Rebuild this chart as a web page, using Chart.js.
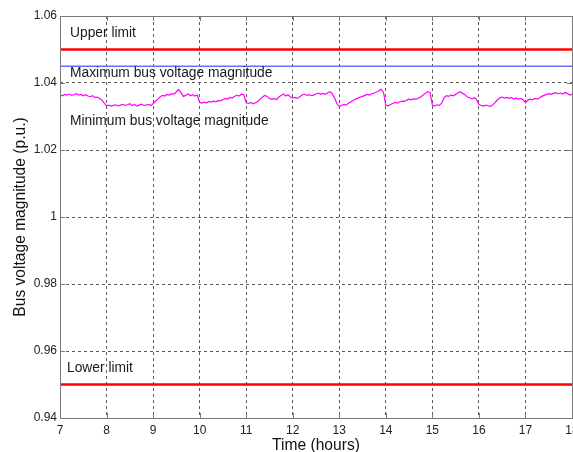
<!DOCTYPE html>
<html>
<head>
<meta charset="utf-8">
<script src="https://cdn.jsdelivr.net/npm/chart.js@4"></script>
<style>
  html, body { margin: 0; padding: 0; background: #fff; overflow: hidden; }
  #wrap { width: 573px; height: 452px; }
</style>
</head>
<body>
<div id="wrap"><canvas id="busChart" width="573" height="452"></canvas></div>
<script>
// hours on the x axis, bus voltage in p.u. on the y axis
const hourTicks = [7, 8, 9, 10, 11, 12, 13, 14, 15, 16, 17, 18];
const voltTicks = [0.94, 0.96, 0.98, 1.0, 1.02, 1.04, 1.06];
const voltTickLabels = ["0.94", "0.96", "0.98", "1", "1.02", "1.04", "1.06"];

const upperLimit = 1.05;
const lowerLimit = 0.95;
const maxBusVoltage = 1.045;

// minimum bus voltage, sampled every 0.05 h from 7:00
const sampleStart = 7;
const sampleStep = 0.05;
const minBusVoltage = [
  1.0365, 1.0362, 1.0366, 1.0364, 1.0367, 1.0363, 1.0365, 1.0368, 1.0364, 1.0366,
  1.0362, 1.0365, 1.0361, 1.0359, 1.0362, 1.0357, 1.0358, 1.0354, 1.0349, 1.0340,
  1.0332, 1.0334, 1.0331, 1.0333, 1.0335, 1.0332, 1.0334, 1.0336, 1.0333, 1.0335,
  1.0338, 1.0333, 1.0336, 1.0331, 1.0334, 1.0337, 1.0333, 1.0334, 1.0336, 1.0333,
  1.0338, 1.0345, 1.0352, 1.0358, 1.0363, 1.0361, 1.0366, 1.0364, 1.0368, 1.0367,
  1.0374, 1.0380, 1.0371, 1.0360, 1.0363, 1.0368, 1.0362, 1.0365, 1.0361, 1.0364,
  1.0342, 1.0340, 1.0343, 1.0341, 1.0345, 1.0343, 1.0346, 1.0344, 1.0348, 1.0347,
  1.0351, 1.0354, 1.0352, 1.0357, 1.0355, 1.0360, 1.0364, 1.0361, 1.0367, 1.0365,
  1.0341, 1.0339, 1.0342, 1.0338, 1.0341, 1.0345, 1.0352, 1.0358, 1.0363, 1.0360,
  1.0354, 1.0351, 1.0353, 1.0350, 1.0358, 1.0363, 1.0367, 1.0361, 1.0365, 1.0358,
  1.0355, 1.0357, 1.0354, 1.0359, 1.0364, 1.0367, 1.0363, 1.0365, 1.0362, 1.0364,
  1.0367, 1.0370, 1.0366, 1.0369, 1.0366, 1.0371, 1.0374, 1.0368, 1.0355, 1.0338,
  1.0330, 1.0333, 1.0336, 1.0334, 1.0340, 1.0344, 1.0348, 1.0352, 1.0355, 1.0358,
  1.0360, 1.0363, 1.0366, 1.0364, 1.0368, 1.0370, 1.0373, 1.0377, 1.0381, 1.0372,
  1.0334, 1.0332, 1.0336, 1.0339, 1.0342, 1.0340, 1.0344, 1.0346, 1.0345, 1.0349,
  1.0352, 1.0350, 1.0353, 1.0351, 1.0355, 1.0358, 1.0364, 1.0369, 1.0374, 1.0372,
  1.0334, 1.0331, 1.0335, 1.0333, 1.0340, 1.0356, 1.0362, 1.0360, 1.0364, 1.0362,
  1.0366, 1.0371, 1.0374, 1.0369, 1.0365, 1.0358, 1.0356, 1.0353, 1.0356, 1.0351,
  1.0336, 1.0333, 1.0331, 1.0334, 1.0332, 1.0330, 1.0335, 1.0342, 1.0350, 1.0356,
  1.0358, 1.0355, 1.0357, 1.0354, 1.0356, 1.0353, 1.0355, 1.0352, 1.0354, 1.0350,
  1.0341, 1.0349, 1.0352, 1.0350, 1.0354, 1.0352, 1.0355, 1.0360, 1.0363, 1.0366,
  1.0368, 1.0366, 1.0369, 1.0371, 1.0368, 1.0370, 1.0367, 1.0372, 1.0369, 1.0364,
  1.0366
];

const xMin = hourTicks[0];
const xMax = hourTicks[hourTicks.length - 1];
const flat = (v) => [{ x: xMin, y: v }, { x: xMax, y: v }];
const minPoints = minBusVoltage.map((v, i) => ({ x: sampleStart + i * sampleStep, y: v }));

const FONT = "'Liberation Sans', Arial, Helvetica, sans-serif";

// text labels placed in data coordinates
const notes = [
  { text: "Upper limit", x: 7.215, y: 1.0549 },
  { text: "Maximum bus voltage magnitude", x: 7.215, y: 1.0430 },
  { text: "Minimum bus voltage magnitude", x: 7.215, y: 1.0287 },
  { text: "Lower limit", x: 7.15, y: 0.9549 },
];

// box frame, inner tick marks and the text notes
const framePlugin = {
  id: "frame",
  afterDatasetsDraw(chart) {
    const { ctx, chartArea: a, scales } = chart;
    ctx.save();
    ctx.strokeStyle = "#7a7a7a";
    ctx.lineWidth = 1;
    ctx.beginPath();
    hourTicks.forEach((h) => {
      const px = Math.round(scales.x.getPixelForValue(h)) + 0.5;
      ctx.moveTo(px, a.bottom); ctx.lineTo(px, a.bottom - 5);
      ctx.moveTo(px, a.top); ctx.lineTo(px, a.top + 5);
    });
    voltTicks.forEach((v) => {
      const py = Math.round(scales.y.getPixelForValue(v)) + 0.5;
      ctx.moveTo(a.left, py); ctx.lineTo(a.left + 5, py);
      ctx.moveTo(a.right, py); ctx.lineTo(a.right - 5, py);
    });
    ctx.stroke();
    ctx.strokeRect(Math.round(a.left) + 0.5, Math.round(a.top) + 0.5,
      Math.round(a.right - a.left), Math.round(a.bottom - a.top));

    ctx.fillStyle = "#1a1a1a";
    ctx.font = "13.8px " + FONT;
    ctx.textAlign = "left";
    ctx.textBaseline = "middle";
    notes.forEach((n) => {
      ctx.fillText(n.text, scales.x.getPixelForValue(n.x), scales.y.getPixelForValue(n.y));
    });
    ctx.restore();
  },
};

new Chart(document.getElementById("busChart"), {
  type: "line",
  data: {
    datasets: [
      { label: "Upper limit", data: flat(upperLimit), borderColor: "#ff0000", borderWidth: 2.5 },
      { label: "Maximum bus voltage magnitude", data: flat(maxBusVoltage), borderColor: "#6b6bff", borderWidth: 1.5 },
      { label: "Minimum bus voltage magnitude", data: minPoints, borderColor: "#ff00ff", borderWidth: 1.2 },
      { label: "Lower limit", data: flat(lowerLimit), borderColor: "#ff0000", borderWidth: 2.5 },
    ],
  },
  options: {
    responsive: false,
    animation: false,
    devicePixelRatio: 1,
    layout: { padding: { top: 16, right: 1, bottom: -3, left: 0 } },
    elements: { point: { radius: 0 }, line: { tension: 0 } },
    plugins: { legend: { display: false }, tooltip: { enabled: false } },
    scales: {
      x: {
        type: "linear",
        min: xMin,
        max: xMax,
        afterBuildTicks: (s) => { s.ticks = hourTicks.map((v) => ({ value: v })); },
        afterFit: (s) => { s.height = 37; s.paddingLeft = 0; s.paddingRight = 0; },
        ticks: { color: "#222", font: { family: FONT, size: 12 }, padding: 5, maxRotation: 0, autoSkip: false },
        grid: { color: "#5a5a5a", lineWidth: 1, drawTicks: false },
        border: { display: false, dash: [3, 3] },
        title: { display: true, text: "Time (hours)", color: "#111", font: { family: FONT, size: 15.6 }, padding: { top: 1.5, bottom: 0 } },
      },
      y: {
        type: "linear",
        min: voltTicks[0],
        max: voltTicks[voltTicks.length - 1],
        afterBuildTicks: (s) => { s.ticks = voltTicks.map((v) => ({ value: v })); },
        afterFit: (s) => { s.width = 60; s.paddingTop = 0; s.paddingBottom = 0; },
        ticks: {
          color: "#222",
          font: { family: FONT, size: 12 },
          padding: 3,
          callback: (v, i) => voltTickLabels[i],
        },
        grid: { color: "#5a5a5a", lineWidth: 1, drawTicks: false },
        border: { display: false, dash: [3, 3] },
        title: { display: true, text: "Bus voltage magnitude (p.u.)", color: "#111", font: { family: FONT, size: 15.6 }, padding: { top: 11, bottom: 0 } },
      },
    },
  },
  plugins: [framePlugin],
});
</script>
</body>
</html>
